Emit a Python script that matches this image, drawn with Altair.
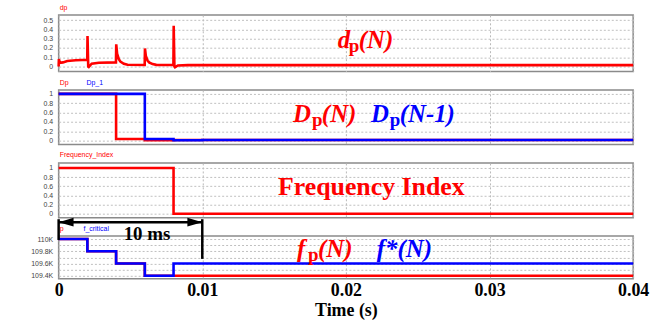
import altair as alt
import pandas as pd

# ---------------- data ----------------
# duty-cycle perturbation dp(N)
dp_t = [0.0, 0.00002, 0.00008, 0.0003, 0.0006, 0.0012, 0.00199,
        0.00201, 0.00206, 0.0021, 0.0023, 0.0028, 0.00399,
        0.00401, 0.00407, 0.00419, 0.0043, 0.00454, 0.0048, 0.00599,
        0.00601, 0.00607, 0.00619, 0.0063, 0.00654, 0.0068, 0.00799,
        0.00801, 0.00806, 0.0081, 0.0083, 0.009, 0.04]
dp_v = [0.0, 0.08, 0.04, 0.045, 0.06, 0.068, 0.072,
        0.33, 0.0, -0.005, 0.03, 0.04, 0.045,
        0.24, 0.14, 0.08, 0.053, 0.03, 0.019, 0.016,
        0.195, 0.115, 0.065, 0.045, 0.026, 0.018, 0.016,
        0.44, 0.0, -0.008, 0.012, 0.015, 0.015]

# Dp(N) and Dp(N-1)
dpn_t = [0.0, 0.004, 0.006, 0.008, 0.04]
dpn_v = [1.0, 0.035, 0.008, 0.012, 0.012]
dpp_t = [0.0, 0.006, 0.008, 0.010, 0.04]
dpp_v = [1.0, 0.035, 0.008, 0.012, 0.012]

# frequency index
fi_t = [0.0, 0.008, 0.04]
fi_v = [1, 0, 0]

# fp(N) and f*(N)  (Hz)
fp_t = [0.0, 0.002, 0.004, 0.006, 0.008, 0.04]
fp_v = [110000, 109800, 109600, 109400, 109400, 109400]
fc_t = [0.0, 0.002, 0.004, 0.006, 0.008, 0.04]
fc_v = [110000, 109800, 109600, 109400, 109600, 109600]

time_ticks = [0, 0.01, 0.02, 0.03, 0.04]
dp_ticks = [0, 0.1, 0.2, 0.3, 0.4, 0.5]
unit_ticks = [0, 0.2, 0.4, 0.6, 0.8, 1]
freq_ticks = [109400, 109500, 109600, 109700, 109800, 109900, 110000]

# ---------------- style ----------------
RED = "#ff0000"
BLUE = "#0000ff"
SERIF = "Liberation Serif"
SANS = "Liberation Sans"
W = 578


def xenc(bottom=False):
    common = dict(values=time_ticks, ticks=False, domain=False, grid=True,
                  gridColor="#b8b8b8", gridDash=[2, 2], gridWidth=1)
    if bottom:
        ax = alt.Axis(format="~g", labelFont=SERIF, labelFontSize=18,
                      labelFontWeight="bold", labelColor="black", labelPadding=3,
                      labelFlush=False, title="Time (s)", titleFont=SERIF,
                      titleFontSize=18, titleFontWeight="bold", titleColor="black",
                      titlePadding=2, **common)
    else:
        ax = alt.Axis(labels=False, title=None, **common)
    return alt.X("t:Q", scale=alt.Scale(domain=[0, 0.04], nice=False, zero=False), axis=ax)


def yenc(domain, values, label_expr=None):
    kw = dict(values=values, title=None, ticks=False, domain=False, grid=True,
              gridColor="#c0c0c0", gridDash=[2, 2], gridWidth=1,
              labelFont=SANS, labelFontSize=7, labelColor="#444444",
              labelPadding=6, minExtent=30, maxExtent=30)
    if label_expr:
        kw["labelExpr"] = label_expr
    else:
        kw["format"] = "~g"
    return alt.Y("v:Q", scale=alt.Scale(domain=domain, nice=False, zero=False),
                 axis=alt.Axis(**kw))


def trace(t, v, color, x, y, step=True):
    df = pd.DataFrame({"t": t, "v": v})
    mark = alt.Chart(df).mark_line(color=color, strokeWidth=2.6,
                                   interpolate="step-after" if step else "linear")
    return mark.encode(x=x, y=y)


def tag(text, color, px, py):
    df = pd.DataFrame({"s": [text]})
    return alt.Chart(df).mark_text(font=SANS, fontSize=7, color=color, align="left",
                                   baseline="middle").encode(
        x=alt.value(px), y=alt.value(py), text="s:N")


def rich(parts, t, v, color, x, y):
    """Bold serif label built from italic pieces and upright subscripts."""
    layers = []
    for text, dx, sub in parts:
        df = pd.DataFrame({"t": [t], "v": [v], "s": [text]})
        layers.append(alt.Chart(df).mark_text(
            font=SERIF, fontWeight="bold", fontStyle="normal" if sub else "italic",
            fontSize=19 if sub else 25, color=color, align="left",
            baseline="alphabetic", dx=dx, dy=4 if sub else 0
        ).encode(x=x, y=y, text="s:N"))
    return layers


# ---------------- panel 1: dp ----------------
x1 = xenc()
y1 = yenc([-0.054, 0.557], dp_ticks)
p1 = alt.layer(
    trace(dp_t, dp_v, RED, x1, y1, step=False),
    tag("dp", RED, 1, -7),
    *rich([("d", 0, False), ("p", 11, True), ("(N)", 21, False)], 0.01944, 0.203, RED, x1, y1),
).properties(width=W, height=57)

# ---------------- panel 2: Dp ----------------
x2 = xenc()
y2 = yenc([-0.085, 1.085], unit_ticks)
p2 = alt.layer(
    trace(dpn_t, dpn_v, RED, x2, y2),
    trace(dpp_t, dpp_v, BLUE, x2, y2),
    tag("Dp", RED, 1, -7),
    tag("Dp_1", BLUE, 28, -7),
    *rich([("D", 0, False), ("p", 19, True), ("(N)", 29, False)], 0.01632, 0.404, RED, x2, y2),
    *rich([("D", 0, False), ("p", 19, True), ("(N-1)", 29, False)], 0.02174, 0.404, BLUE, x2, y2),
).properties(width=W, height=55)

# ---------------- panel 3: frequency index ----------------
x3 = xenc()
y3 = yenc([-0.087, 1.109], unit_ticks)
fi_label = alt.Chart(pd.DataFrame({"t": [0.02177], "v": [0.41], "s": ["Frequency Index"]})).mark_text(
    font=SERIF, fontWeight="bold", fontSize=26, color=RED, align="center", baseline="alphabetic"
).encode(x=x3, y=y3, text="s:N")
p3 = alt.layer(
    trace(fi_t, fi_v, RED, x3, y3),
    tag("Frequency_Index", RED, 1, -8),
    fi_label,
).properties(width=W, height=55)

# ---------------- panel 4: frequencies ----------------
x4 = xenc(bottom=True)
y4 = yenc([109351, 110049], freq_ticks,
          "round(datum.value / 100) % 2 == 0 ? format(datum.value / 1000, '.1~f') + 'K' : ''")

span = pd.DataFrame({"t": [0.0], "t2": [0.01], "v": [110276]})
span_line = alt.Chart(span).mark_rule(color="black", strokeWidth=2.5).encode(
    x=x4, x2=alt.X2("t2:Q"), y=y4)
bars = pd.DataFrame({"t": [0.0, 0.01], "v": [110324, 110324], "v2": [109985, 109676]})
bar_rules = alt.Chart(bars).mark_rule(color="black", strokeWidth=2.5).encode(
    x=x4, y=y4, y2=alt.Y2("v2:Q"))
head_l = alt.Chart(pd.DataFrame({"t": [0.0], "v": [110276]})).mark_point(
    shape="M0,0L2,-0.6L2,0.6Z", size=225, filled=True, color="black", opacity=1
).encode(x=x4, y=y4)
head_r = alt.Chart(pd.DataFrame({"t": [0.01], "v": [110276]})).mark_point(
    shape="M0,0L-2,-0.6L-2,0.6Z", size=225, filled=True, color="black", opacity=1
).encode(x=x4, y=y4)
span_text = alt.Chart(pd.DataFrame({"t": [0.00615], "v": [109992], "s": ["10 ms"]})).mark_text(
    font=SERIF, fontWeight="bold", fontSize=19, color="black", align="center", baseline="alphabetic"
).encode(x=x4, y=y4, text="s:N")

p4 = alt.layer(
    trace(fp_t, fp_v, RED, x4, y4),
    trace(fc_t, fc_v, BLUE, x4, y4),
    tag("p", RED, 1, -7.5),
    tag("f_critical", BLUE, 25, -7.5),
    *rich([("f", 0, False), ("p", 11, True), ("(N)", 21, False)], 0.0166, 109713, RED, x4, y4),
    *rich([("f*(N)", 0, False)], 0.02215, 109713, BLUE, x4, y4),
    span_line, bar_rules, head_l, head_r, span_text,
).properties(width=W, height=43)

chart = alt.vconcat(p1, p2, p3, p4, spacing=18.5, bounds="flush").properties(
    padding={"left": 28, "top": 2, "right": 10, "bottom": 2},
    background="white",
).configure_view(stroke="#8a8a8a", strokeWidth=1.5)

chart.save("out.html", embed_options={"renderer": "svg", "actions": False})
